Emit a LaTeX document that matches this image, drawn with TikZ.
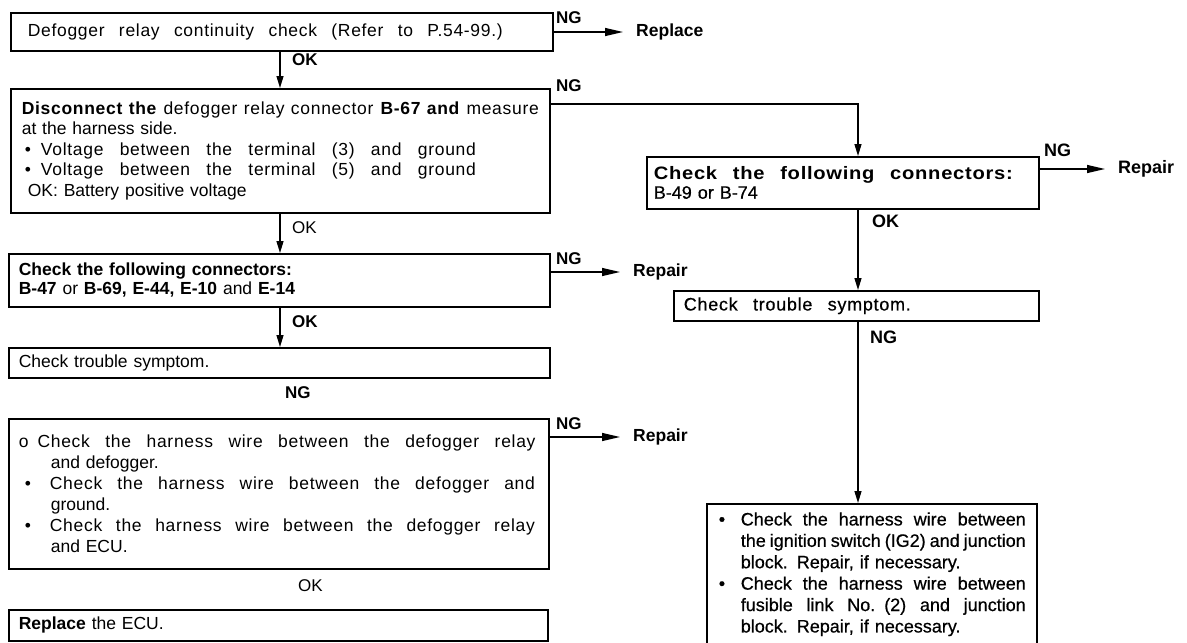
\documentclass[tikz,border=0pt]{standalone}
\usepackage{fontspec}
\setmainfont{Liberation Sans}
\newfontfamily\rfont{Liberation Sans}[FakeBold=0.6]
\newfontfamily\rbfont{Liberation Sans}[FakeStretch=1.12]
\usetikzlibrary{arrows.meta,calc}
\newcommand{\jl}[2]{\makebox[#1][s]{\addfontfeatures{LetterSpace=4}\spaceskip=\fontdimen2\font plus 1fil minus 0.1em\relax #2}}
\newcommand{\jn}[2]{\makebox[#1][s]{\spaceskip=\fontdimen2\font plus 1fil minus 0.1em\relax #2}}
\begin{document}
\begin{tikzpicture}[x=1pt,y=-1pt,
  every node/.style={font=\fontsize{17.5}{20.5}\selectfont, inner sep=0pt},
  box/.style={draw, line width=1.6pt, anchor=north west, align=left, inner ysep=0pt},
  rbox/.style={box, font=\rfont\fontsize{18}{21.4}\selectfont},
  harr/.style={line width=1.3pt, -{Triangle[length=18pt,width=8pt]}, shorten >=13pt},
  varr/.style={line width=1.3pt, -{Triangle[length=12pt,width=7pt]}},
  lbl/.style={font=\bfseries\fontsize{17}{18}\selectfont, anchor=west},
  lblr/.style={font=\fontsize{17}{18}\selectfont, anchor=west},
  res/.style={font=\bfseries\fontsize{17.5}{19}\selectfont, anchor=west},
  rlbl/.style={font=\bfseries\fontsize{18}{20}\selectfont, anchor=west},
]
\useasboundingbox (0,0) rectangle (1187,643);
\coordinate (cx) at (280,0);
\coordinate (rx) at (858,0);

% left column
\node[box, inner xsep=17pt, text width=508pt, minimum height=38pt] (b1) at (10,12)
  {\jl{475pt}{Defogger relay continuity check (Refer to P.54-99.)}};

\node[box, inner xsep=11pt, text width=517pt, minimum height=124pt] (b2) at (10,88)
  {\jl{517pt}{\textbf{Disconnect the} defogger relay connector \textbf{B-67 and} measure}\\
   at the harness side.\\
   \hspace*{3pt}\textbullet\hspace{10pt}\jl{435pt}{Voltage between the terminal (3) and ground}\\
   \hspace*{3pt}\textbullet\hspace{10pt}\jl{435pt}{Voltage between the terminal (5) and ground}\\
   \hspace*{6pt}OK: Battery positive voltage};

\node[box, inner xsep=10pt, text width=521pt, minimum height=53pt, font=\fontsize{17.5}{19}\selectfont] (b3) at (8,253)
  {\textbf{Check the following connectors:}\\
   \textbf{B-47} or \textbf{B-69, E-44, E-10} and \textbf{E-14}};

\node[box, inner xsep=10pt, text width=521pt, minimum height=30pt] (b4) at (8,347)
  {Check trouble symptom.};

\node[box, inner xsep=10pt, text width=520pt, minimum height=150pt, font=\fontsize{17.5}{21}\selectfont] (b5) at (8,418)
  {o\hspace{9pt}\jl{498pt}{Check the harness wire between the defogger relay}\\
   \hspace*{32pt}and defogger.\\
   \hspace*{6pt}\textbullet\hspace{19pt}\jl{485pt}{Check the harness wire between the defogger and}\\
   \hspace*{32pt}ground.\\
   \hspace*{6pt}\textbullet\hspace{19pt}\jl{485pt}{Check the harness wire between the defogger relay}\\
   \hspace*{32pt}and ECU.};

\node[box, inner xsep=10pt, text width=519pt, minimum height=31pt] (b6) at (8,609)
  {\textbf{Replace} the ECU.};

% right column
\node[rbox, inner xsep=7pt, text width=378pt, minimum height=52pt, font=\rfont\fontsize{18}{19}\selectfont] (r1) at (646,156)
  {{\rbfont\bfseries\jl{359pt}{Check the following connectors:}}\\
   B-49 or B-74};

\node[rbox, inner xsep=10pt, text width=345pt, minimum height=30pt] (r2) at (673,290)
  {\jl{227pt}{Check trouble symptom.}};

\node[rbox, inner xsep=12pt, text width=306pt, minimum height=141pt] (r3) at (706,503)
  {\textbullet\hspace{15.7pt}\jn{285pt}{Check the harness wire between}\\
   \hspace*{22pt}\jn{285pt}{the ignition switch (IG2) and junction}\\
   \hspace*{22pt}block. Repair, if necessary.\\
   \textbullet\hspace{15.7pt}\jn{285pt}{Check the harness wire between}\\
   \hspace*{22pt}\jn{285pt}{fusible link No. (2) and junction}\\
   \hspace*{22pt}block. Repair, if necessary.};

% results
\node[res] (rep1) at (636,32) {Replace};
\node[res] (rep2) at (633,272) {Repair};
\node[res] (rep3) at (633,437) {Repair};
\node[res, font=\bfseries\fontsize{18}{20}\selectfont] (rep4) at (1118,169) {Repair};

% labels
\node[lbl] (ng1) at (556,18) {NG};
\node[lbl] (ok1) at (292,60) {OK};
\node[lbl] (ng2) at (556,86) {NG};
\node[lblr] (ok2) at (292,228) {OK};
\node[lbl] (ng3) at (556,259) {NG};
\node[lbl] (ok3) at (292,322) {OK};
\node[lbl] (ng4) at (285,393) {NG};
\node[lbl] (ng5) at (556,424) {NG};
\node[lblr] (ok4) at (298,586) {OK};
\node[rlbl] (ng6) at (1044,150) {NG};
\node[rlbl] (ok5) at (872,221) {OK};
\node[rlbl] (ng7) at (870,337) {NG};

% connectors
\draw[harr] (b1.east |- rep1.west) -- (rep1.west);
\draw[varr] (b1.south -| cx) -- (b2.north -| cx);
\draw[varr] (b2.south -| cx) -- (b3.north -| cx);
\draw[varr] ($(b2.north east)+(0,16)$) -| (r1.north -| rx);
\draw[harr] (b3.east |- rep2.west) -- (rep2.west);
\draw[varr] (b3.south -| cx) -- (b4.north -| cx);
\draw[harr] (b5.east |- rep3.west) -- (rep3.west);
\draw[harr] (r1.east |- rep4.west) -- (rep4.west);
\draw[varr] (r1.south -| rx) -- (r2.north -| rx);
\draw[varr] (r2.south -| rx) -- (r3.north -| rx);
\end{tikzpicture}
\end{document}
